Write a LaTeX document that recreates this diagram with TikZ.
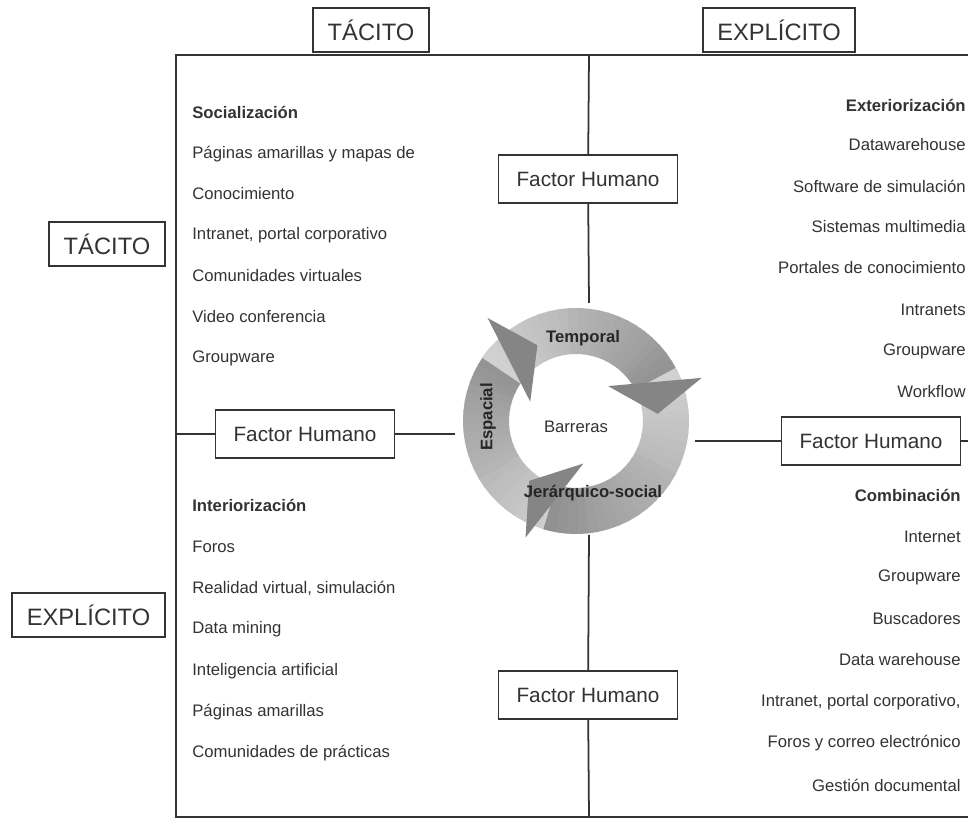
\documentclass[tikz,border=0pt]{standalone}
\usepackage{fontspec}
\setmainfont{Liberation Sans}
\usepackage{tikz}
\definecolor{ink}{HTML}{333333}

\begin{document}
\begin{tikzpicture}[x=0.02cm,y=-0.02cm,
  line/.style={draw=ink, line width=1pt},
  axisbox/.style={draw=ink, line width=1.1pt, inner xsep=0.29cm, minimum height=0.88cm, font=\fontsize{13.5}{15}\selectfont, text=ink},
  fhbox/.style={draw=ink, line width=1.1pt, minimum width=3.58cm, minimum height=0.96cm, font=\fontsize{11.8}{13}\selectfont, text=ink},
  item/.style={font=\fontsize{9.5}{11}\selectfont, text=ink, inner sep=0pt},
  itemhead/.style={item, font=\fontsize{9.5}{11}\selectfont\bfseries},
  ringtext/.style={font=\fontsize{9.5}{11}\selectfont\bfseries, text=black!85, inner sep=0pt}]
\useasboundingbox[fill=white] (0,0) rectangle (968,820);

% frame
\coordinate (fa) at (968,55);
\coordinate (fb) at (176,55);
\coordinate (fc) at (176,817);
\coordinate (fd) at (968,817);
\draw[line] (fa) -- (fb) -- (fc) -- (fd);

% axis labels
\node [axisbox] (tt) at (371,30) {TÁCITO};
\node [axisbox] (et) at (779,30) {EXPLÍCITO};
\node [axisbox] (tl) at (107,244) {TÁCITO};
\node [axisbox] (el) at (88.5,615) {EXPLÍCITO};

% human factor boxes
\node [fhbox] (fht) at (588,179) {Factor Humano};
\node [fhbox] (fhl) at (305,434) {Factor Humano};
\node [fhbox] (fhr) at (871,441) {Factor Humano};
\node [fhbox] (fhb) at (588,695) {Factor Humano};

% barrier cycle
\begin{scope}[shift={(576,421)}]
\foreach \ta/\hb in {262/140, 146/22, 28/-106}{
  \foreach \k in {0,...,23}{
    \pgfmathsetmacro{\aa}{\ta-(\ta-\hb)*\k/24}
    \pgfmathsetmacro{\ab}{\ta-(\ta-\hb)*(\k+1)/24-0.8}
    \pgfmathtruncatemacro{\sh}{18+1.1*\k}
    \fill[black!\sh] (\aa:1.34cm) arc[start angle=\aa, end angle=\ab, radius=1.34cm]
      -- (\ab:2.26cm) arc[start angle=\ab, end angle=\aa, radius=2.26cm] -- cycle;
  }
}
\foreach \tp/\r in {117/1.70cm, 5/1.64cm, 232/1.52cm}{
  \begin{scope}[rotate=\tp]
    \fill[black!48] ([xshift=-0.94cm, yshift=0.64cm]\r,0) -- ([xshift=0.94cm, yshift=0.64cm]\r,0) -- (\r,0) -- cycle;
  \end{scope}
}
\end{scope}
\node [ringtext] (tem) at (583,338) {Temporal};
\node [ringtext] (esp) at (488,417) [rotate=90] {Espacial};
\node [ringtext] (jer) at (593,493) {Jerárquico-social};
\node [item] (bar) at (576,427) {Barreras};

% cross lines
\coordinate (vn) at (589,303);
\coordinate (vs) at (589,535);
\coordinate (vt) at (589,55);
\coordinate (vb) at (589,817);
\coordinate (hw) at (455,434);
\coordinate (he) at (695,441);
\coordinate (hl) at (176,434);
\coordinate (hr) at (968,441);
\draw[line] (vt) -- (fht) -- (vn);
\draw[line] (vs) -- (fhb) -- (vb);
\draw[line] (hl) -- (fhl) -- (hw);
\draw[line] (he) -- (fhr) -- (hr);

% tacito - tacito
\node [itemhead, anchor=west] (a1) at (192,112) {Socialización};
\node [item, anchor=west] (a2) at (192,154) {Páginas amarillas y mapas de};
\node [item, anchor=west] (a3) at (192,194) {Conocimiento};
\node [item, anchor=west] (a4) at (192,235) {Intranet, portal corporativo};
\node [item, anchor=west] (a5) at (192,276) {Comunidades virtuales};
\node [item, anchor=west] (a6) at (192,317) {Video conferencia};
\node [item, anchor=west] (a7) at (192,358) {Groupware};

% explicito - tacito
\node [itemhead, anchor=west] (b1) at (192,505) {Interiorización};
\node [item, anchor=west] (b2) at (192,547) {Foros};
\node [item, anchor=west] (b3) at (192,588) {Realidad virtual, simulación};
\node [item, anchor=west] (b4) at (192,629) {Data mining};
\node [item, anchor=west] (b5) at (192,671) {Inteligencia artificial};
\node [item, anchor=west] (b6) at (192,712) {Páginas amarillas};
\node [item, anchor=west] (b7) at (192,753) {Comunidades de prácticas};

% tacito - explicito
\node [itemhead, anchor=east] (c1) at (966,105) {Exteriorización};
\node [item, anchor=east] (c2) at (966,145) {Datawarehouse};
\node [item, anchor=east] (c3) at (966,186) {Software de simulación};
\node [item, anchor=east] (c4) at (966,227) {Sistemas multimedia};
\node [item, anchor=east] (c5) at (966,268) {Portales de conocimiento};
\node [item, anchor=east] (c6) at (966,310) {Intranets};
\node [item, anchor=east] (c7) at (966,351) {Groupware};
\node [item, anchor=east] (c8) at (966,392) {Workflow};

% explicito - explicito
\node [itemhead, anchor=east] (d1) at (961,495) {Combinación};
\node [item, anchor=east] (d2) at (961,537) {Internet};
\node [item, anchor=east] (d3) at (961,577) {Groupware};
\node [item, anchor=east] (d4) at (961,619) {Buscadores};
\node [item, anchor=east] (d5) at (961,660) {Data warehouse};
\node [item, anchor=east] (d6) at (961,702) {Intranet, portal corporativo,};
\node [item, anchor=east] (d7) at (961,743) {Foros y correo electrónico};
\node [item, anchor=east] (d8) at (961,785) {Gestión documental};
\end{tikzpicture}
\end{document}
